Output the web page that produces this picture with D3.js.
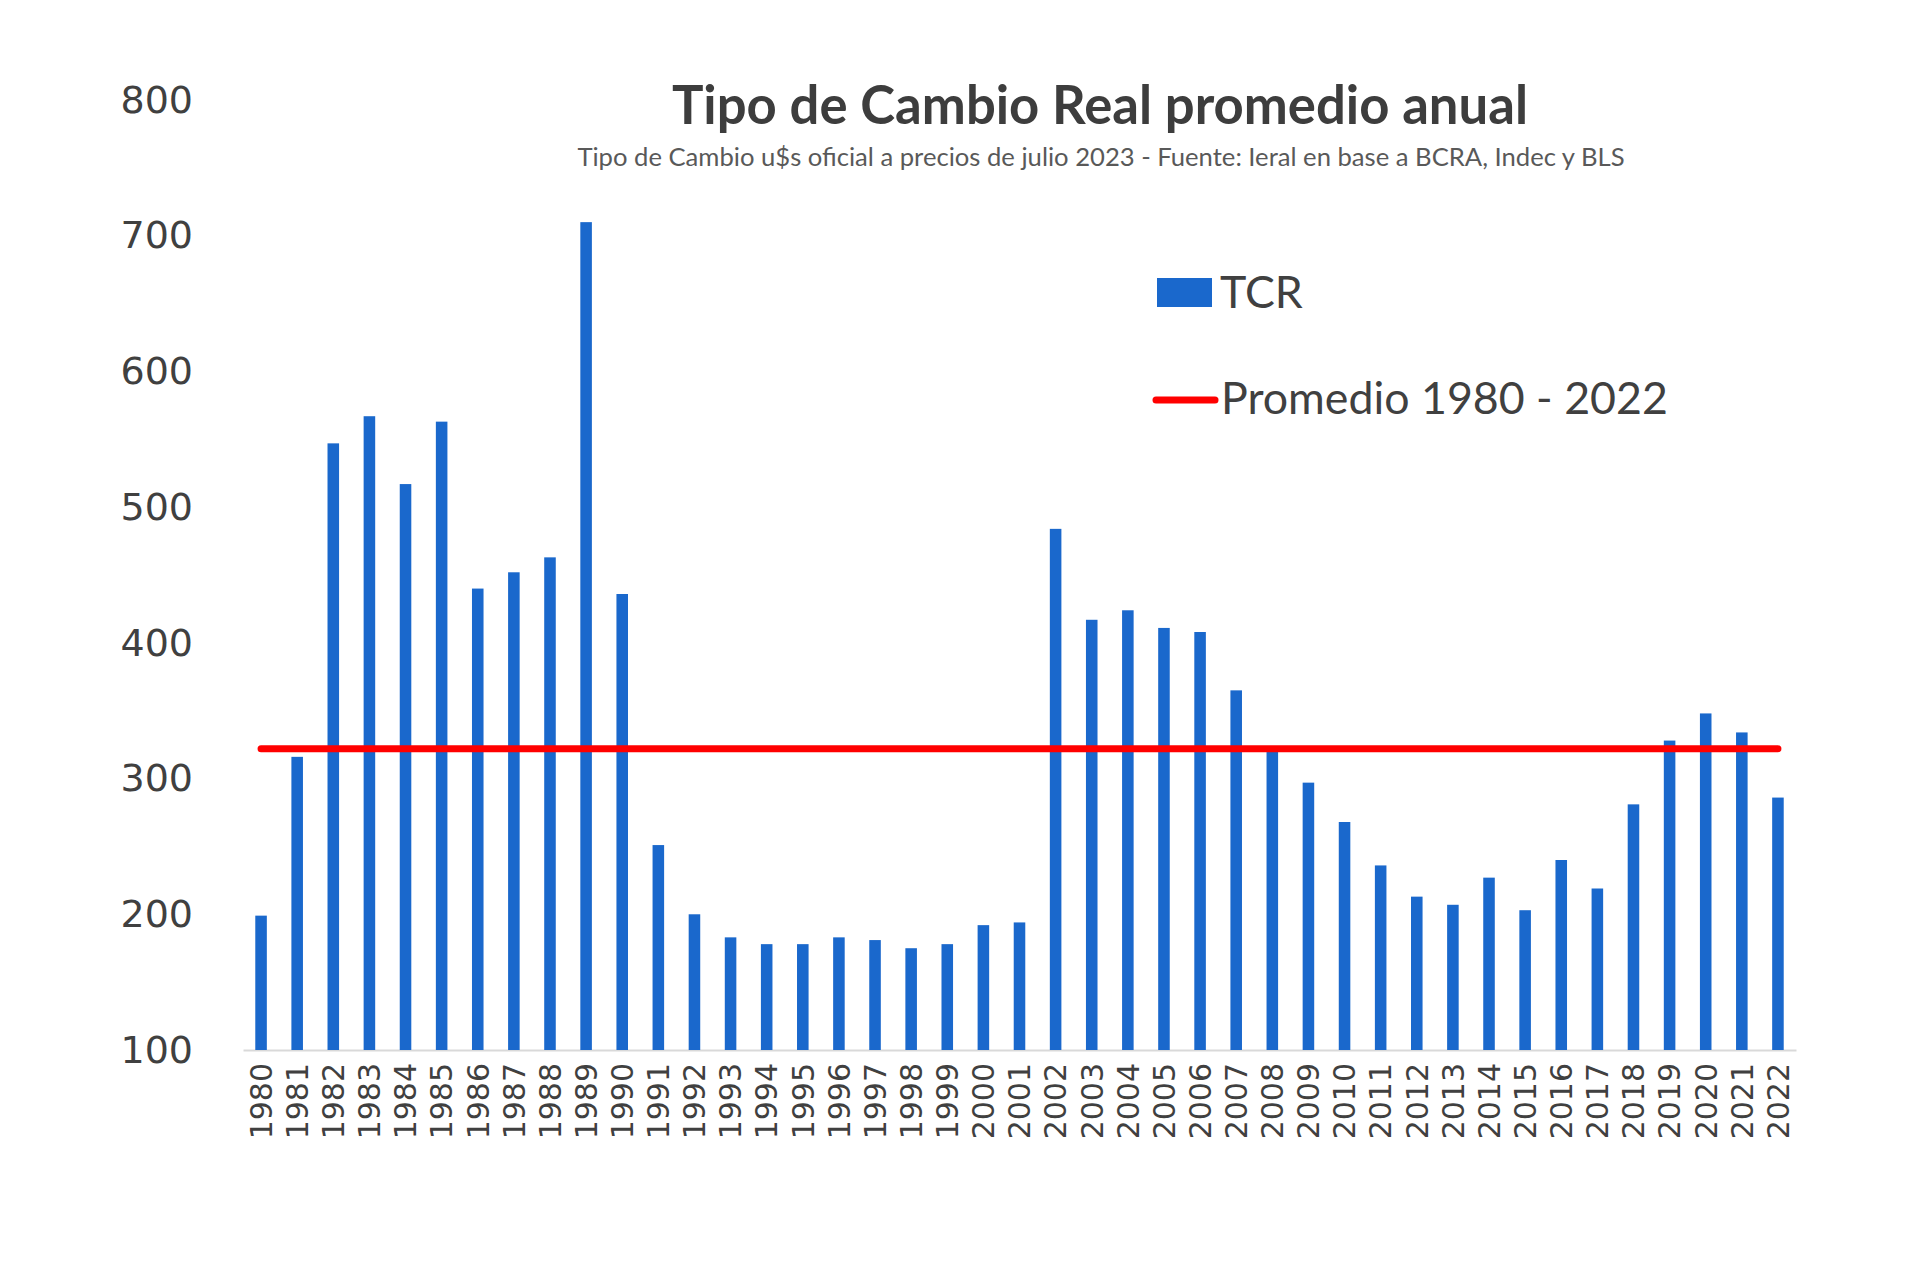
<!DOCTYPE html>
<html><head><meta charset="utf-8">
<script src="https://cdn.jsdelivr.net/npm/d3@7"></script>
<style>html,body{margin:0;padding:0;background:#fff;} svg{display:block}</style>
</head><body><svg id="c" width="1920" height="1271"></svg>
<script>
const years = ["1980","1981","1982","1983","1984","1985","1986","1987","1988","1989",
  "1990","1991","1992","1993","1994","1995","1996","1997","1998","1999",
  "2000","2001","2002","2003","2004","2005","2006","2007","2008","2009",
  "2010","2011","2012","2013","2014","2015","2016","2017","2018","2019",
  "2020","2021","2022"];
const tcr = [199,316,547,567,517,563,440,452,463,710,
  436,251,200,183,178,178,183,181,175,178,
  192,194,484,417,424,411,408,365,320,297,
  268,236,213,207,227,203,240,219,281,328,
  348,334,286];
const promedio = 322;
const yTicks = [100,200,300,400,500,600,700,800];
const titleText = "Tipo de Cambio Real promedio anual";
const subtitleText = "Tipo de Cambio u$s oficial a precios de julio 2023 - Fuente: Ieral en base a BCRA, Indec y BLS";
const legendLabels = ["TCR", "Promedio 1980 - 2022"];

const BLUE = "#1a68cc", RED = "#ff0000", TXT = "#404040";
const svg = d3.select("#c");

const x = d3.scaleBand().domain(years).range([243, 1796]).paddingInner(0.68).paddingOuter(0.34);
const y = d3.scaleLinear().domain([100, 800]).range([1050, 100]);

function fitText(sel, target) {
  const fs = parseFloat(sel.attr("font-size"));
  const w = sel.node().getComputedTextLength();
  sel.attr("font-size", fs * target / w);
}

// Title
const t = svg.append("text").attr("x", 1100).attr("y", 124).attr("text-anchor", "middle")
  .attr("font-family", "Lato, 'Open Sans', sans-serif").attr("font-weight", "bold")
  .attr("font-size", 50).attr("fill", "#3d3d3d").text(titleText);
fitText(t, 856);
const st = svg.append("text").attr("x", 1101).attr("y", 166).attr("text-anchor", "middle")
  .attr("font-family", "Lato, 'Open Sans', sans-serif")
  .attr("font-size", 22).attr("fill", "#595959").text(subtitleText);
fitText(st, 1048);

// Y axis
const yAxis = svg.append("g").attr("transform", "translate(193,0)")
  .call(d3.axisLeft(y).tickValues(yTicks).tickSize(0).tickPadding(0).tickFormat(d3.format("d")));
yAxis.select(".domain").remove();
yAxis.selectAll("text").attr("font-family", "'DejaVu Sans', Verdana, sans-serif")
  .attr("font-size", 38).attr("fill", TXT);

// X axis
const xAxis = svg.append("g").attr("transform", "translate(0,1050)")
  .call(d3.axisBottom(x).tickSize(0).tickSizeOuter(0));
xAxis.select(".domain").attr("stroke", "#d9d9d9").attr("stroke-width", 2);
xAxis.selectAll("text").attr("font-family", "'DejaVu Sans', Verdana, sans-serif")
  .attr("font-size", 30).attr("fill", TXT)
  .attr("transform", "rotate(-90)").attr("text-anchor", "end")
  .attr("x", -13).attr("y", 0).attr("dy", "0.36em");

// Bars
svg.append("g").selectAll("rect").data(years).join("rect")
  .attr("x", d => x(d)).attr("width", x.bandwidth())
  .attr("y", (d, i) => y(tcr[i])).attr("height", (d, i) => y(100) - y(tcr[i]))
  .attr("fill", BLUE);

// Average line
const avgData = [years[0], years[years.length - 1]];
svg.append("path").datum(avgData)
  .attr("d", d3.line().x(d => x(d) + x.bandwidth() / 2).y(() => y(promedio)))
  .attr("stroke", RED).attr("stroke-width", 7).attr("stroke-linecap", "round").attr("fill", "none");

// Legend
const lg = svg.append("g");
lg.append("rect").attr("x", 1157).attr("y", 278).attr("width", 55).attr("height", 29).attr("fill", BLUE);
const l1 = lg.append("text").attr("x", 1220).attr("y", 308)
  .attr("font-family", "Lato, 'Open Sans', sans-serif").attr("font-size", 40).attr("fill", TXT).text(legendLabels[0]);
lg.append("line").attr("x1", 1156).attr("x2", 1215).attr("y1", 400).attr("y2", 400)
  .attr("stroke", RED).attr("stroke-width", 7).attr("stroke-linecap", "round");
const l2 = lg.append("text").attr("x", 1221).attr("y", 414)
  .attr("font-family", "Lato, 'Open Sans', sans-serif").attr("font-size", 40).attr("fill", TXT).text(legendLabels[1]);
fitText(l2, 447);
l1.attr("font-size", l2.attr("font-size"));
</script></body></html>
